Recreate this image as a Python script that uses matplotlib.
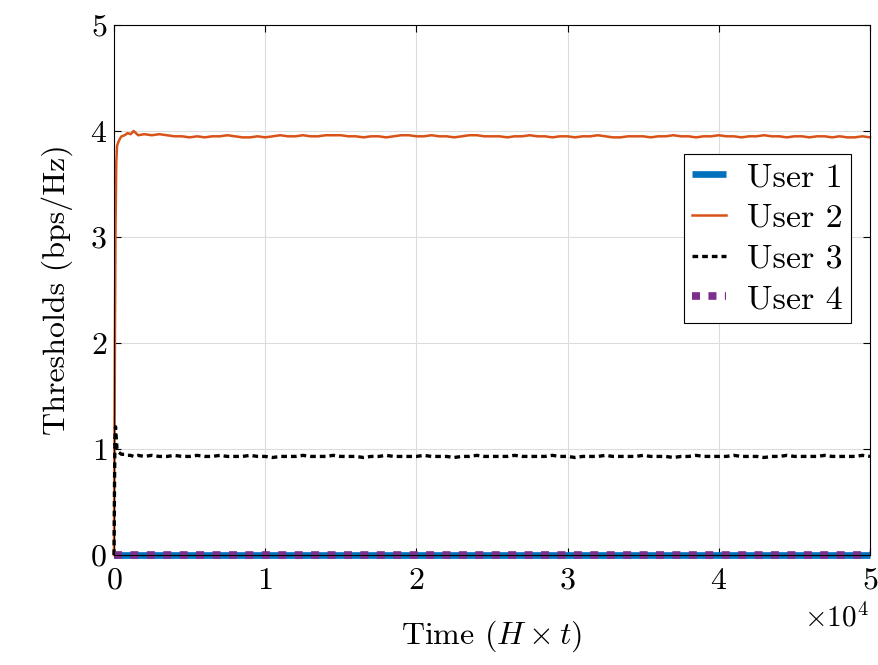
import numpy as np
import matplotlib
matplotlib.use("Agg")
from matplotlib import pyplot as plt

plt.rcParams["font.family"] = "serif"
plt.rcParams["font.serif"] = ["cmr10", "DejaVu Serif"]
plt.rcParams["mathtext.fontset"] = "cm"
plt.rcParams["axes.formatter.use_mathtext"] = True

# time samples: dense start, then every 500 steps
t_early = [0, 30, 60, 100, 150, 200, 300, 400, 500, 700, 900, 1100, 1300, 1600]
t_late = list(range(2000, 50001, 500))
time = t_early + t_late

user2_early = [0.0, 0.9, 2.0, 3.1, 3.7, 3.86, 3.9, 3.93, 3.95, 3.96, 3.98, 3.97, 4.0, 3.96]
user2_late = [
    3.97, 3.96, 3.97, 3.96, 3.95, 3.95, 3.94, 3.95, 3.94, 3.95,
    3.95, 3.96, 3.95, 3.94, 3.94, 3.95, 3.94, 3.95, 3.96, 3.95,
    3.95, 3.96, 3.95, 3.95, 3.96, 3.96, 3.96, 3.95, 3.95, 3.94,
    3.95, 3.95, 3.94, 3.95, 3.96, 3.96, 3.95, 3.95, 3.96, 3.95,
    3.95, 3.94, 3.95, 3.96, 3.96, 3.95, 3.95, 3.95, 3.94, 3.95,
    3.95, 3.96, 3.95, 3.95, 3.94, 3.95, 3.95, 3.94, 3.95, 3.95,
    3.96, 3.95, 3.94, 3.94, 3.95, 3.95, 3.95, 3.94, 3.95, 3.95,
    3.96, 3.95, 3.95, 3.94, 3.95, 3.95, 3.96, 3.95, 3.95, 3.94,
    3.95, 3.95, 3.96, 3.95, 3.95, 3.94, 3.95, 3.95, 3.94, 3.95,
    3.95, 3.94, 3.95, 3.94, 3.94, 3.95, 3.94,
]
user3_early = [0.0, 0.6, 1.1, 1.21, 1.1, 1.0, 0.97, 0.96, 0.95, 0.95, 0.94, 0.94, 0.93, 0.94]
user3_late = [
    0.93, 0.94, 0.93, 0.93, 0.94, 0.93, 0.93, 0.94, 0.93, 0.93,
    0.94, 0.93, 0.93, 0.93, 0.94, 0.93, 0.93, 0.92, 0.93, 0.93,
    0.93, 0.94, 0.93, 0.93, 0.93, 0.94, 0.93, 0.93, 0.93, 0.92,
    0.93, 0.93, 0.94, 0.93, 0.93, 0.93, 0.93, 0.94, 0.93, 0.93,
    0.93, 0.92, 0.93, 0.93, 0.94, 0.93, 0.93, 0.93, 0.93, 0.94,
    0.93, 0.93, 0.93, 0.93, 0.94, 0.93, 0.93, 0.92, 0.93, 0.93,
    0.93, 0.94, 0.93, 0.93, 0.93, 0.93, 0.94, 0.93, 0.93, 0.93,
    0.92, 0.93, 0.93, 0.94, 0.93, 0.93, 0.93, 0.93, 0.94, 0.93,
    0.93, 0.93, 0.92, 0.93, 0.93, 0.94, 0.93, 0.93, 0.93, 0.93,
    0.94, 0.93, 0.93, 0.93, 0.93, 0.94, 0.93,
]
user2 = user2_early + user2_late
user3 = user3_early + user3_late
user1 = [0.0] * len(time)
user4 = [0.0] * len(time)

labels = ["User 1", "User 2", "User 3", "User 4"]

fig = plt.figure(figsize=(8.79, 6.65), dpi=100)
ax = fig.add_axes([0.1297, 0.1654, 0.860, 0.797])

ax.plot(time, user1, color="#0072BD", lw=4.8, label=labels[0], clip_on=False, solid_capstyle="butt")
ax.plot(time, user2, color="#D95319", lw=1.8, label=labels[1], clip_on=False)
ax.plot(time, user3, color="black", lw=2.4, dashes=(1.7, 1.2), label=labels[2], clip_on=False)
ax.plot(time, user4, color="#7E2F8E", lw=5.5, dashes=(1.05, 1.1), label=labels[3], clip_on=False)

ax.set_xlim(0, 50000)
ax.set_ylim(0, 5)
ax.set_xticks([0, 10000, 20000, 30000, 40000, 50000])
ax.set_yticks([0, 1, 2, 3, 4, 5])
ax.ticklabel_format(axis="x", style="sci", scilimits=(0, 0), useMathText=True)
ax.xaxis.get_offset_text().set_visible(False)
fig.text(0.988, 0.058, r"$\times 10^{4}$", fontsize=21, ha="right", va="baseline")

ax.grid(True, color="#dcdcdc", lw=0.8)
ax.set_axisbelow(True)
ax.tick_params(direction="in", top=True, right=True, labelsize=23, length=5, width=0.8)
ax.tick_params(axis="x", pad=9)
ax.tick_params(axis="y", pad=5)
for s in ax.spines.values():
    s.set_linewidth(0.8)

ax.set_xlabel(r"Time ($H\times t$)", fontsize=23, labelpad=17)
ax.set_ylabel("Thresholds (bps/Hz)", fontsize=23, labelpad=12)

leg = ax.legend(loc="upper right", bbox_to_anchor=(0.975, 0.757), borderaxespad=0,
                fontsize=24.5, fancybox=False, framealpha=1, edgecolor="black",
                handlelength=1.0, handletextpad=0.6, labelspacing=0.32, borderpad=0.25)
leg.get_frame().set_linewidth(0.8)

fig.savefig("out.png", dpi=100)
